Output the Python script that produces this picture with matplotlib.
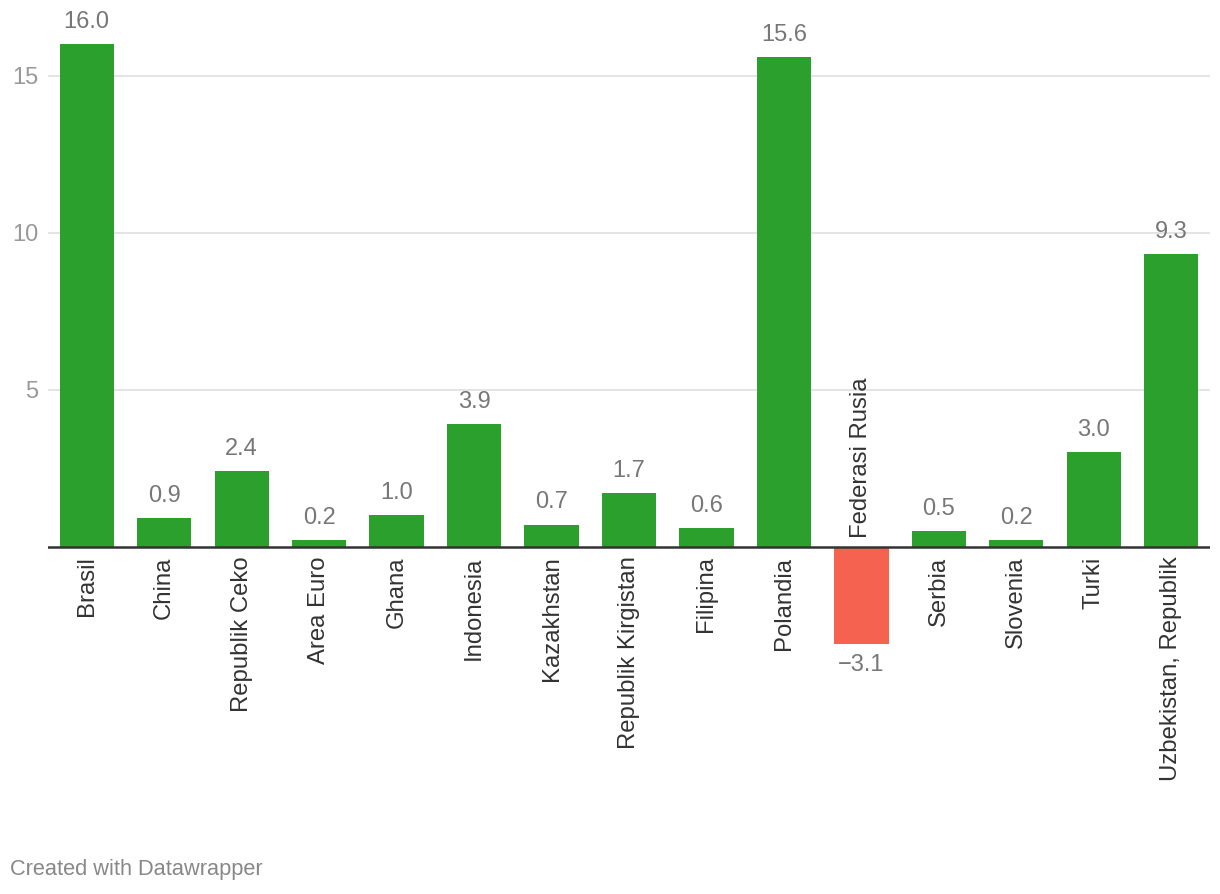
import matplotlib
matplotlib.use("Agg")
import matplotlib.pyplot as plt

categories = ["Brasil", "China", "Republik Ceko", "Area Euro", "Ghana", "Indonesia",
              "Kazakhstan", "Republik Kirgistan", "Filipina", "Polandia", "Federasi Rusia",
              "Serbia", "Slovenia", "Turki", "Uzbekistan, Republik"]
values = [16.0, 0.9, 2.4, 0.2, 1.0, 3.9, 0.7, 1.7, 0.6, 15.6, -3.1, 0.5, 0.2, 3.0, 9.3]
yticks = [5, 10, 15]

plt.rcParams['font.family'] = ['Liberation Sans', 'DejaVu Sans']

W, H = 1220, 894
fig = plt.figure(figsize=(W / 100, H / 100), dpi=100)
left_px, right_px = 48, 1210
top_px, bot_px = 20, 700
ax = fig.add_axes([left_px / W, 1 - bot_px / H, (right_px - left_px) / W, (bot_px - top_px) / H])

ppu = 31.4
zero_px = 546.5
ax.set_ylim((zero_px - bot_px) / ppu, (zero_px - top_px) / ppu)
ax.set_xlim(-0.5, len(categories) - 0.5)

green = "#2ca02c"
red = "#f5624f"
colors = [green if v >= 0 else red for v in values]
x = list(range(len(categories)))

for y in yticks:
    ax.axhline(y, color="#e2e2e2", lw=1.3, zorder=0)
ax.bar(x, values, width=0.70, color=colors, zorder=2)
ax.axhline(0, color="#333333", lw=1.8, zorder=3)

fs = 17
for sp in ax.spines.values():
    sp.set_visible(False)
ax.set_xticks([])
ax.set_yticks(yticks)
ax.set_yticklabels([str(t) for t in yticks], color="#999999", fontsize=fs)
ax.tick_params(axis='y', length=0, pad=7)

for i, v in enumerate(values):
    if v >= 0:
        ax.annotate(f"{v:.1f}", (i, v), xytext=(0, 8), textcoords="offset points",
                    ha="center", va="bottom", color="#777777", fontsize=fs)
        ax.annotate(categories[i], (i, 0), xytext=(0, -10), textcoords="offset pixels",
                    ha="center", va="top", rotation=90, color="#333333", fontsize=fs + 0.2)
    else:
        ax.annotate(f"\u2212{abs(v):.1f}", (i, v), xytext=(0, -7), textcoords="offset points",
                    ha="center", va="top", color="#777777", fontsize=fs)
        ax.annotate(categories[i], (i, 0), xytext=(0, 9), textcoords="offset pixels",
                    ha="center", va="bottom", rotation=90, color="#333333", fontsize=fs + 0.2)

fig.text(10 / W, 1 - 870 / H, "Created with Datawrapper", ha="left", va="center",
         color="#888888", fontsize=15.7)

fig.savefig("out.png", dpi=100, facecolor="white")
